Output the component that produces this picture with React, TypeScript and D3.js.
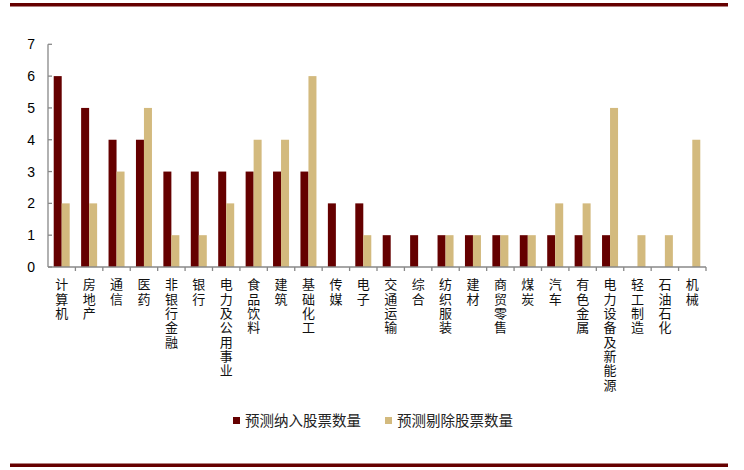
import React from "react";
import * as d3 from "d3";

const categories = [
  "计算机", "房地产", "通信", "医药", "非银行金融", "银行", "电力及公用事业", "食品饮料",
  "建筑", "基础化工", "传媒", "电子", "交通运输", "综合", "纺织服装", "建材",
  "商贸零售", "煤炭", "汽车", "有色金属", "电力设备及新能源", "轻工制造", "石油石化", "机械",
];
const included = [6, 5, 4, 4, 3, 3, 3, 3, 3, 3, 2, 2, 1, 1, 1, 1, 1, 1, 1, 1, 1, 0, 0, 0];
const removed = [2, 2, 3, 5, 1, 1, 2, 4, 4, 6, 0, 1, 0, 0, 1, 1, 1, 1, 2, 2, 5, 1, 1, 4];
const seriesNames = ["预测纳入股票数量", "预测剔除股票数量"];
const yTicks = [0, 1, 2, 3, 4, 5, 6, 7];

const W = 744;
const H = 470;
const DARK = "#650000";
const TAN = "#D3BA7E";

export default function App() {
  const x0 = 48, x1 = 706, y0 = 267, y1 = 44.3;
  const x = d3.scaleBand<string>().domain(categories).range([x0, x1]).padding(0);
  const y = d3.scaleLinear().domain([0, 7]).range([y0, y1]);
  const bw = 8;
  const cjk = "'Noto Sans CJK SC', 'Noto Sans', sans-serif";

  return (
    <div style={{ position: "absolute", left: 0, top: 0 }}>
      <svg width={W} height={H} style={{ display: "block" }}>
        <rect x={0} y={0} width={W} height={H} fill="#fff" />
        <rect x={10} y={3} width={718} height={3.5} fill={DARK} />
        <rect x={10} y={463.5} width={718} height={3.5} fill={DARK} />

        {categories.map((c, i) => {
          const bx = (x(c) as number) + x.bandwidth() / 2 - bw;
          return (
            <g key={c}>
              {included[i] > 0 && (
                <rect x={bx} y={y(included[i])} width={bw} height={y0 - y(included[i])} fill={DARK} />
              )}
              {removed[i] > 0 && (
                <rect x={bx + bw} y={y(removed[i])} width={bw} height={y0 - y(removed[i])} fill={TAN} />
              )}
            </g>
          );
        })}

        {/* y axis */}
        <line x1={x0} x2={x0} y1={y1} y2={y0} stroke="#888" strokeWidth={1.3} />
        {yTicks.map((t) => (
          <g key={t}>
            <line x1={x0} x2={x0 + 4} y1={y(t)} y2={y(t)} stroke="#888" strokeWidth={1.3} />
            <text x={35} y={y(t) + 5} textAnchor="end" fontFamily="Arial, 'Liberation Sans', sans-serif" fontSize={14} fill="#000">
              {t}
            </text>
          </g>
        ))}

        {/* x axis */}
        <line x1={x0} x2={x1} y1={y0} y2={y0} stroke="#888" strokeWidth={1.3} />
        {categories.map((c) => (
          <line key={"t" + c} x1={(x(c) as number) + x.bandwidth()} x2={(x(c) as number) + x.bandwidth()} y1={y0} y2={y0 + 4} stroke="#888" strokeWidth={1.3} />
        ))}
        {categories.map((c) => {
          const cx = (x(c) as number) + x.bandwidth() / 2;
          return (
            <text
              key={"l" + c}
              x={cx}
              y={278}
              fontFamily={cjk}
              fontSize={13}
              fill="#111"
              letterSpacing={1.3}
              style={{ writingMode: "vertical-rl", textOrientation: "upright" } as React.CSSProperties}
            >
              {c}
            </text>
          );
        })}

        {/* legend */}
        <rect x={233} y={417} width={7} height={7} fill={DARK} />
        <text x={245} y={426} fontFamily={cjk} fontSize={14.5} fill="#222">{seriesNames[0]}</text>
        <rect x={385} y={417} width={7} height={7} fill={TAN} />
        <text x={397} y={426} fontFamily={cjk} fontSize={14.5} fill="#222">{seriesNames[1]}</text>
      </svg>
    </div>
  );
}
